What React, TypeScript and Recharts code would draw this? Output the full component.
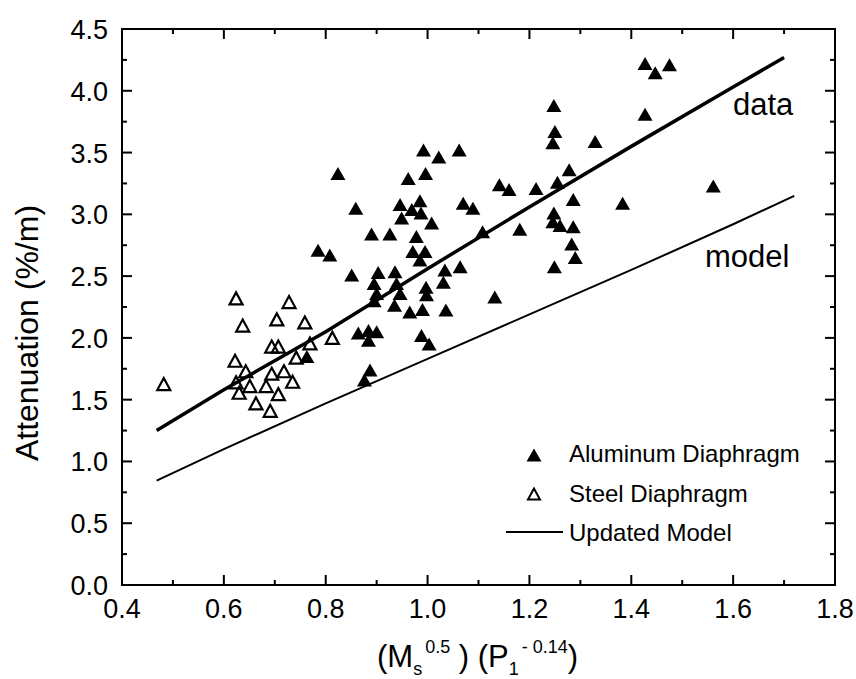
import React from "react";
import {
  ScatterChart,
  Scatter,
  XAxis,
  YAxis,
  Customized,
} from "recharts";

// aluminum diaphragm points [x, y]
const aluminumX = [
  0.763, 0.992, 1.022, 1.062, 0.824, 0.962, 0.996, 0.859, 0.946, 0.969,
  0.985, 0.987, 0.949, 1.008, 1.07, 1.089, 0.89, 0.926, 0.978, 0.971,
  0.995, 0.985, 0.785, 0.808, 0.851, 0.903, 0.895, 0.936, 0.939, 1.034,
  1.064, 1.031, 0.997, 0.9, 0.895, 0.946, 0.935, 0.998, 0.965, 0.99,
  1.036, 0.864, 0.884, 0.9, 0.884, 0.988, 1.003, 0.887, 0.876, 1.132,
  1.248, 1.25, 1.246, 1.329, 1.278, 1.141, 1.16, 1.213, 1.255, 1.286,
  1.383, 1.108, 1.181, 1.248, 1.246, 1.26, 1.286, 1.283, 1.29, 1.249,
  1.427, 1.447, 1.475, 1.427, 1.561,
];
const aluminumY = [
  1.85, 3.52, 3.465, 3.52, 3.33, 3.29, 3.33, 3.05, 3.08, 3.04,
  3.11, 3.01, 2.97, 2.93, 3.09, 3.05, 2.84, 2.84, 2.82, 2.7,
  2.7, 2.63, 2.71, 2.67, 2.51, 2.53, 2.44, 2.535, 2.44, 2.55,
  2.575, 2.45, 2.41, 2.36, 2.3, 2.36, 2.265, 2.35, 2.21, 2.23,
  2.225, 2.04, 2.06, 2.05, 1.98, 2.02, 1.95, 1.74, 1.66, 2.33,
  3.88, 3.67, 3.58, 3.59, 3.36, 3.24, 3.2, 3.21, 3.26, 3.12,
  3.09, 2.86, 2.88, 3.01, 2.94, 2.91, 2.9, 2.76, 2.65, 2.575,
  4.22, 4.145, 4.21, 3.81, 3.23,
];

// steel diaphragm points
const steelX = [
  0.482, 0.624, 0.728, 0.637, 0.704, 0.759, 0.694, 0.707, 0.769, 0.742,
  0.622, 0.643, 0.624, 0.63, 0.651, 0.694, 0.718, 0.683, 0.735, 0.707,
  0.663, 0.691, 0.813,
];
const steelY = [
  1.626, 2.32, 2.29, 2.1, 2.15, 2.125, 1.93, 1.93, 1.955, 1.84,
  1.815, 1.73, 1.64, 1.556, 1.61, 1.71, 1.73, 1.61, 1.645, 1.545,
  1.47, 1.41, 2.0,
];

// fit to data (thick) and updated model (thin)
const fitX = [0.468, 0.6, 0.8, 1.0, 1.2, 1.4, 1.6, 1.7];
const fitY = [1.25, 1.58, 2.05, 2.56, 3.06, 3.55, 4.03, 4.27];
const modelX = [0.468, 0.6, 0.8, 1.0, 1.2, 1.4, 1.6, 1.72];
const modelY = [0.845, 1.1, 1.47, 1.83, 2.19, 2.55, 2.92, 3.15];

const xTicks = [0.4, 0.5, 0.6, 0.7, 0.8, 0.9, 1.0, 1.1, 1.2, 1.3, 1.4, 1.5, 1.6, 1.7, 1.8];
const xMajor = [0.4, 0.6, 0.8, 1.0, 1.2, 1.4, 1.6, 1.8];
const yTicks = [0, 0.25, 0.5, 0.75, 1, 1.25, 1.5, 1.75, 2, 2.25, 2.5, 2.75, 3, 3.25, 3.5, 3.75, 4, 4.25, 4.5];
const yMajor = [0, 0.5, 1, 1.5, 2, 2.5, 3, 3.5, 4, 4.5];

const zip = (xs: number[], ys: number[]) => xs.map((x, i) => ({ x, y: ys[i] }));
const aluminum = zip(aluminumX, aluminumY);
const steel = zip(steelX, steelY);
const fit = zip(fitX, fitY);
const model = zip(modelX, modelY);

const FONT = "'Liberation Sans', Arial, sans-serif";

// plot box, same numbers as the chart margins/axis sizes below
const PLOT = { left: 122, top: 29, right: 835, bottom: 585 };

const tri = (cx: number, cy: number, w: number, h: number) =>
  `${cx},${cy - h / 2} ${cx - w / 2},${cy + h / 2} ${cx + w / 2},${cy + h / 2}`;

const FilledTri = (p: any) => <polygon points={tri(p.cx, p.cy, 15, 13)} fill="#000" />;
const OpenTri = (p: any) => (
  <polygon points={tri(p.cx, p.cy, 13, 12)} fill="none" stroke="#000" strokeWidth={2.2} />
);
const NoDot = () => <g />;

// inward tick marks drawn as small filled rects, labels outside
const BottomTick = ({ x, payload }: any) => {
  const major = xMajor.includes(payload.value);
  const len = major ? 10 : 5;
  const y0 = PLOT.bottom;
  return (
    <g>
      <rect x={Number(x) - 1} y={y0 - len} width={2} height={len} fill="#000" />
      <rect x={Number(x) - 1} y={PLOT.top} width={2} height={len} fill="#000" />
      {major && (
        <text x={x} y={y0 + 33} textAnchor="middle" fontSize={27} fontFamily={FONT} fill="#000" stroke="none">
          {payload.value.toFixed(1)}
        </text>
      )}
    </g>
  );
};
const LeftTick = ({ y, payload }: any) => {
  const major = yMajor.includes(payload.value);
  const len = major ? 10 : 5;
  const x0 = PLOT.left;
  return (
    <g>
      <rect x={x0} y={Number(y) - 1} width={len} height={2} fill="#000" />
      <rect x={PLOT.right - len} y={Number(y) - 1} width={len} height={2} fill="#000" />
      {major && (
        <text x={x0 - 14} y={Number(y) + 10} textAnchor="end" fontSize={27} fontFamily={FONT} fill="#000" stroke="none">
          {payload.value.toFixed(1)}
        </text>
      )}
    </g>
  );
};

const Annotations = () => (
  <g fontFamily={FONT} fill="#000">
    <rect
      x={PLOT.left}
      y={PLOT.top}
      width={PLOT.right - PLOT.left}
      height={PLOT.bottom - PLOT.top}
      fill="none"
      stroke="#000"
      strokeWidth={2}
    />
    <text x={38} y={333} fontSize={32} textAnchor="middle" transform="rotate(-90, 38, 333)">
      Attenuation (%/m)
    </text>
    <text x={377} y={667} fontSize={31}>
      (M
      <tspan fontSize={18} dy={8}>s</tspan>
      <tspan fontSize={18} dx={3} dy={-22}>0.5</tspan>
      <tspan fontSize={31} dy={14}>{" ) (P"}</tspan>
      <tspan fontSize={18} dy={8}>1</tspan>
      <tspan fontSize={18} dx={3} dy={-22}>- 0.14</tspan>
      <tspan fontSize={31} dy={14}>)</tspan>
    </text>
    <text x={733} y={115} fontSize={31}>data</text>
    <text x={705} y={267} fontSize={31}>model</text>

    {/* legend */}
    <polygon points={tri(534, 455, 15, 13)} fill="#000" />
    <polygon points={tri(534, 494, 12, 11)} fill="none" stroke="#000" strokeWidth={2} />
    <line x1={506} y1={532} x2={563} y2={532} stroke="#000" strokeWidth={2} />
    <text x={569} y={462} fontSize={24}>Aluminum Diaphragm</text>
    <text x={569} y={502} fontSize={24}>Steel Diaphragm</text>
    <text x={569} y={541} fontSize={24}>Updated Model</text>
  </g>
);

export default function App() {
  return (
    <div style={{ position: "absolute", left: 0, top: 0, background: "#fff" }}>
      <ScatterChart
        width={856}
        height={679}
        margin={{ top: PLOT.top, right: 856 - PLOT.right, bottom: 34, left: 0 }}
      >
        <XAxis
          type="number"
          dataKey="x"
          domain={[0.4, 1.8]}
          ticks={xTicks}
          interval={0}
          height={60}
          tickLine={false}
          axisLine={false}
          tick={<BottomTick />}
        />
        <YAxis
          type="number"
          dataKey="y"
          domain={[0, 4.5]}
          ticks={yTicks}
          interval={0}
          width={PLOT.left}
          tickLine={false}
          axisLine={false}
          tick={<LeftTick />}
        />
        <Scatter
          data={model}
          line={{ stroke: "#000", strokeWidth: 2 }}
          shape={NoDot}
          isAnimationActive={false}
        />
        <Scatter
          data={fit}
          line={{ stroke: "#000", strokeWidth: 3.5 }}
          shape={NoDot}
          isAnimationActive={false}
        />
        <Scatter data={steel} shape={OpenTri} isAnimationActive={false} />
        <Scatter data={aluminum} shape={FilledTri} isAnimationActive={false} />
        <Customized component={Annotations} />
      </ScatterChart>
    </div>
  );
}
